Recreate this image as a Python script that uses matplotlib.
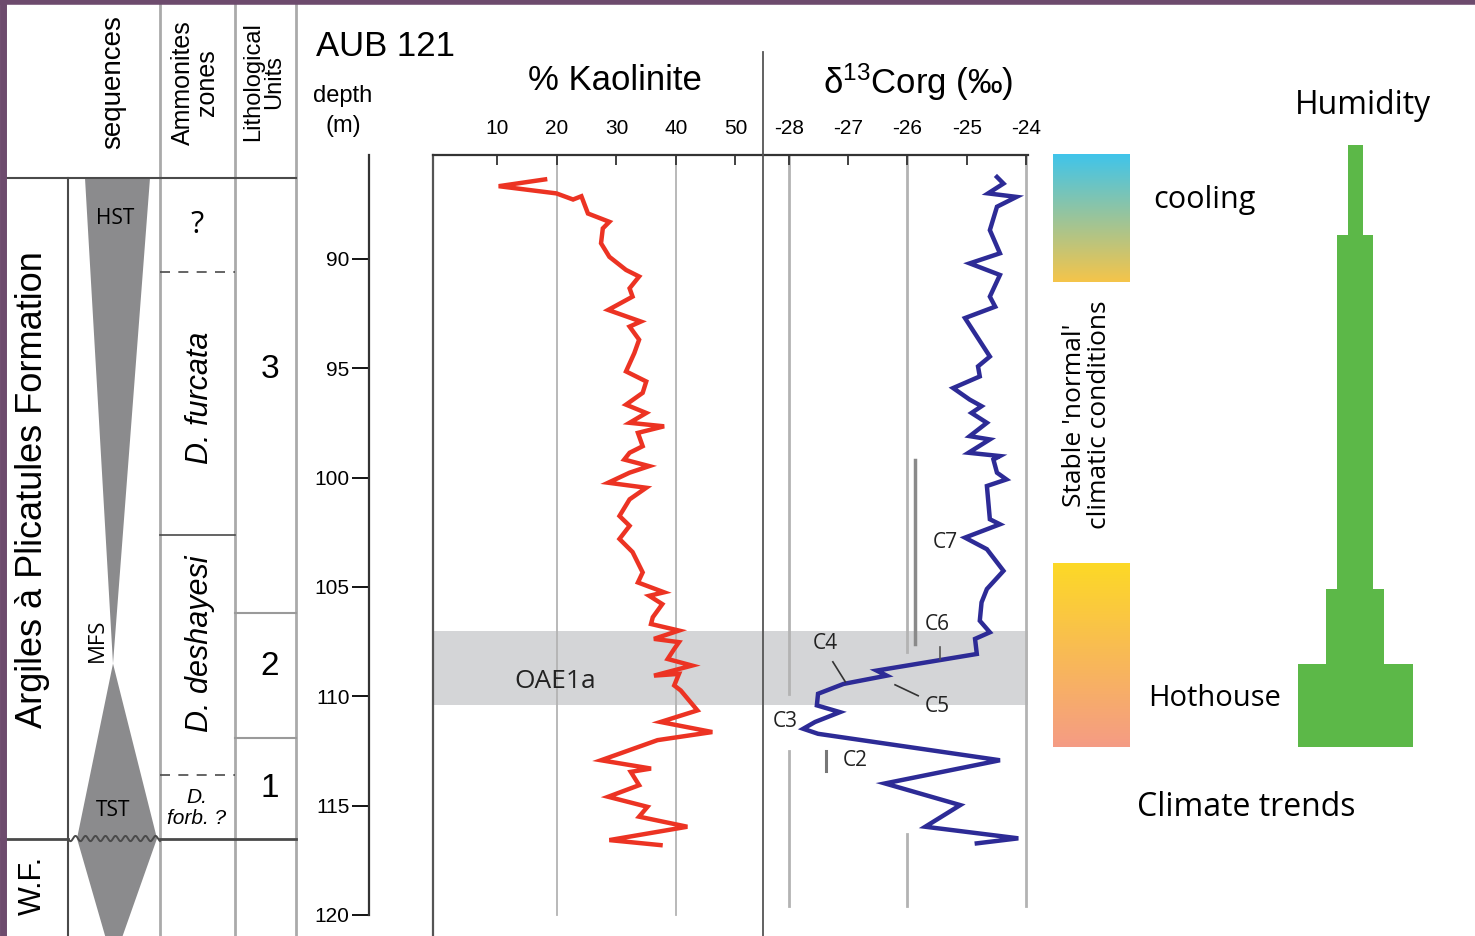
"""AUB 121 section: kaolinite, d13Corg and climate trends across OAE1a."""

import numpy as np
import matplotlib.pyplot as plt

plt.rcParams.update({
    "font.family": "Liberation Sans",
    "mathtext.fontset": "custom",
    "mathtext.rm": "Liberation Sans",
    "mathtext.it": "Liberation Sans:italic",
    "axes.unicode_minus": False,
})

# --- data (depth in m) ---
kao_depth = [86.36, 86.67, 87.0, 87.28, 87.13, 87.92, 88.3, 88.6, 89.28, 89.9,
             90.5, 90.8, 91.34, 91.72, 92.33, 92.86, 93.09, 93.69, 94.3, 95.14,
             95.6, 96.12, 96.66, 97.04, 97.49, 97.65, 97.95, 98.56, 98.86, 99.17,
             99.47, 99.77, 100.23, 100.46, 100.99, 101.75, 102.2, 102.8, 103.4, 104.33,
             104.79, 105.24, 105.4, 105.78, 106.38, 106.69, 106.99, 107.37, 107.52, 107.83,
             108.29, 108.59, 109.05, 108.97, 109.5, 109.73, 110.64, 111.17, 111.63, 112.0,
             112.92, 113.3, 113.45, 114.06, 114.59, 115.05, 115.5, 115.96, 116.57, 116.8]
kao_pct = [18.0, 10.2, 19.9, 22.7, 24.1, 25.2, 28.8, 27.7, 27.4, 28.8,
           31.6, 33.8, 32.2, 32.7, 28.6, 34.1, 32.2, 33.8, 33.0, 31.6,
           35.0, 34.4, 31.6, 35.0, 32.2, 38.0, 33.6, 34.4, 32.2, 31.3,
           35.5, 32.2, 28.6, 35.0, 32.2, 30.5, 32.2, 30.5, 32.7, 34.4,
           33.6, 38.0, 35.5, 37.7, 36.1, 35.8, 40.5, 36.3, 40.5, 39.7,
           38.6, 42.7, 36.3, 40.5, 39.7, 40.8, 43.6, 37.4, 46.1, 36.9,
           27.4, 35.8, 32.4, 33.8, 28.6, 35.2, 33.8, 41.9, 28.8, 37.4]

c13_depth = [86.25, 86.55, 87.0, 87.16, 87.61, 88.68, 89.74, 90.2, 90.73, 91.72,
             92.18, 92.7, 94.46, 94.91, 95.37, 95.9, 96.43, 96.73, 97.04, 97.49,
             98.1, 98.25, 98.86, 99.01, 99.17, 99.77, 100.08, 100.38, 101.9, 102.13,
             102.74, 103.27, 104.26, 105.09, 105.7, 106.54, 107.07, 107.37, 108.06, 108.82,
             109.05, 109.43, 109.88, 110.41, 110.72, 111.17, 111.48, 111.71, 112.92, 113.98,
             114.97, 115.96, 116.49, 116.72]
c13_val = [-24.49, -24.38, -24.64, -24.16, -24.49, -24.61, -24.44, -24.95, -24.44, -24.61,
           -24.52, -25.03, -24.61, -24.81, -24.78, -25.23, -24.95, -24.75, -24.92, -24.66,
           -24.95, -24.61, -24.97, -24.44, -24.55, -24.49, -24.33, -24.66, -24.61, -24.44,
           -25.03, -24.66, -24.38, -24.66, -24.75, -24.78, -24.61, -24.86, -24.83, -26.52,
           -26.35, -27.08, -27.51, -27.53, -27.14, -27.56, -27.76, -27.51, -24.44, -26.38,
           -25.11, -25.70, -24.13, -24.83]

# C-segments (label, d13C, depth)
seg_labels = ["C7", "C6", "C4", "C5", "C3", "C2"]
seg_x = [-25.37, -25.50, -27.39, -25.49, -28.07, -26.89]
seg_depth = [102.95, 106.73, 107.6, 110.47, 111.16, 112.94]

# stratigraphy
header_base = 86.3
zone_bounds = [90.6, 102.6, 113.6]
zone_styles = ["--", "-", "--"]
zone_labels = ["?", "D. furcata", "D. deshayesi", "D.\nforb. ?"]
zone_label_depth = [88.45, 96.35, 107.6, 115.1]
unit_bounds = [106.2, 111.9]
unit_labels = ["3", "2", "1"]
unit_label_depth = [95.06, 108.65, 114.2]
formation_base = 116.5
mfs_depth = 108.5
oae_top, oae_base = 107.0, 110.4

# climate trends
cool_top, cool_base = 85.2, 91.05
hot_top, hot_base = 103.9, 112.3
hum_top = [84.8, 88.9, 105.1, 108.5]
hum_base = [88.9, 105.1, 108.5, 112.3]
hum_width = [15, 36, 58, 115]

W, H = 1475, 936
Y0, Y1 = 78.157, 120.956   # depth at top / bottom pixel row
PXM = 21.87                # pixels per metre
def dep(y):
    return Y0 + y / PXM

GRID = "#b3b3b3"
DARK = "#4a4a4a"
RED = "#ec3323"
BLUE = "#2d2b96"
GREEN = "#5cb848"
MYR = "Open Sans"

fig = plt.figure(figsize=(W / 100, H / 100), dpi=100)

# overlay for text (pixel coordinates)
ax_t = fig.add_axes([0, 0, 1, 1], zorder=5)
ax_t.set_xlim(0, W); ax_t.set_ylim(H, 0); ax_t.axis("off")
ax_t.patch.set_alpha(0)

# stratigraphy + climate (x in pixels, y in depth)
ax_s = fig.add_axes([0, 0, 1, 1], zorder=1)
ax_s.axis("off")

# column frame
ax_s.plot([68, 68], [header_base, Y1], color=DARK, lw=1.5)
for xc in [160, 235, 296]:
    ax_s.plot([xc, xc], [Y0, Y1], color="#aaaaaa", lw=2)
ax_s.plot([5, 296], [header_base, header_base], color=DARK, lw=1.5)
ax_s.plot([0, 68], [formation_base, formation_base], color=DARK, lw=2)
ax_s.plot([160, 296], [formation_base, formation_base], color=DARK, lw=2)
for d, ls in zip(zone_bounds, zone_styles):
    ax_s.plot([160, 235], [d, d], color=DARK, lw=1.2, ls=ls, dashes=(6, 5) if ls == "--" else (None, None))
for d in unit_bounds:
    ax_s.plot([235, 296], [d, d], color="#9a9a9a", lw=1.5)

# sequences
ax_s.fill([85, 150, 113], [header_base, header_base, mfs_depth], color="#8b8b8d", lw=0)
ax_s.fill([113, 157, 113, 77], [mfs_depth, formation_base, 122.2, formation_base],
          color="#8b8b8d", lw=0)
xw = np.linspace(68, 160, 400)
ax_s.plot(xw, formation_base + 0.12 * np.sin((xw - 68) / 10 * 2 * np.pi),
          color=DARK, lw=1.4)

# climate gradient boxes
cool = np.array([[0.25, 0.77, 0.92], [0.96, 0.77, 0.29]])
hot = np.array([[0.99, 0.85, 0.15], [0.96, 0.61, 0.52]])
for top, base, cols in [(cool_top, cool_base, cool), (hot_top, hot_base, hot)]:
    t = np.linspace(0, 1, 200)[:, None]
    grad = (1 - t) * cols[0] + t * cols[1]
    ax_s.imshow(grad[:, None, :].repeat(2, axis=1), extent=(1053, 1130, base, top),
                aspect="auto", origin="upper")

# humidity steps
hum_top = np.array(hum_top); hum_base = np.array(hum_base); hum_width = np.array(hum_width)
ax_s.barh((hum_top + hum_base) / 2, hum_width, height=hum_base - hum_top,
          left=1355 - hum_width / 2, color=GREEN, lw=0)

ax_s.set_xlim(0, W); ax_s.set_ylim(Y1, Y0)

# --- curve panels ---
ybot_px = 936
kx0, kx1 = 20 - 124 / 5.95, 20 + 206 / 5.95
cx0, cx1 = -28 - 26 / 59.25, -28 + 239 / 59.25

ax_k = fig.add_axes([433 / W, 0, 330 / W, (ybot_px - 155) / H], zorder=2)
ax_c = fig.add_axes([763 / W, 0, 265 / W, (ybot_px - 155) / H], zorder=2)
for ax, xl in [(ax_k, (kx0, kx1)), (ax_c, (cx0, cx1))]:
    ax.set_xlim(*xl); ax.set_ylim(Y1, dep(155))
    ax.patch.set_alpha(0)
    for s in ["bottom", "right", "left"]:
        ax.spines[s].set_visible(False)
    ax.spines["top"].set_color("#333333"); ax.spines["top"].set_linewidth(1.6)
    ax.xaxis.tick_top()
    ax.tick_params(axis="x", direction="in", length=7, width=1.3, color="#333333",
                   labelsize=15, pad=12)
    ax.set_yticks([])
    ax.axhspan(oae_top, oae_base, color="#d4d5d7", lw=0, zorder=0)
ax_k.spines["left"].set_visible(True)
ax_k.spines["left"].set_color("#555555"); ax_k.spines["left"].set_linewidth(1.6)
ax_k.set_xticks([10, 20, 30, 40, 50])
ax_c.set_xticks([-28, -27, -26, -25, -24])

for v in [20, 40]:
    ax_k.plot([v, v], [dep(155), 120.0], color=GRID, lw=1.3, zorder=1)
for v, segs in [(-28, [(dep(155), 109.9), (112.5, 119.6)]),
                (-26, [(dep(155), 107.97), (116.3, 119.6)]),
                (-24, [(dep(155), 119.6)])]:
    for a, b in segs:
        ax_c.plot([v, v], [a, b], color=GRID, lw=2, zorder=1)

ax_k.plot(kao_pct, kao_depth, color=RED, lw=3.2, zorder=3, solid_joinstyle="miter")
ax_c.plot(c13_val, c13_depth, color=BLUE, lw=3.2, zorder=3, solid_joinstyle="miter")
ax_k.text(19.7, 109.3, "OAE1a", family=MYR, fontsize=19, color="#222222",
          ha="center", va="center")

# segment markers
ax_c.plot([-25.87, -25.87], [99.17, 107.6], color="#8a8a8a", lw=2.5, zorder=2)
ax_c.plot([-25.45, -25.45], [107.74, 108.3], color="#555555", lw=1.2, zorder=4)
ax_c.plot([-27.38, -27.38], [112.48, 113.4], color="#777777", lw=2.2, zorder=2)
ax_c.plot([-27.26, -27.05], [108.42, 109.33], color="#333333", lw=1.2, zorder=4)
ax_c.plot([-26.21, -25.82], [109.47, 109.97], color="#333333", lw=1.2, zorder=4)
for lab, x, d in zip(seg_labels, seg_x, seg_depth):
    ax_c.text(x, d, lab, family=MYR, fontsize=15, color="#222222",
              ha="center", va="center", zorder=5)

# depth axis
ax_d = fig.add_axes([369 / W, (H - 915) / H, 0.0001, (915 - 155) / H], zorder=2)
ax_d.set_ylim(120, dep(155))
for s in ["bottom", "right", "top"]:
    ax_d.spines[s].set_visible(False)
ax_d.spines["left"].set_color("#333333"); ax_d.spines["left"].set_linewidth(1.6)
ax_d.set_xticks([])
ax_d.set_yticks([90, 95, 100, 105, 110, 115, 120])
ax_d.tick_params(axis="y", direction="out", length=12, width=1.3, labelsize=15, pad=2)

# panel separator
ax_t.plot([763, 763], [52, H], color="#555555", lw=1.3)

# strat column texts
for lab, d in zip(zone_labels, zone_label_depth):
    if lab == "?":
        ax_s.text(197, d, lab, family=MYR, fontsize=22, ha="center", va="center")
    elif "\n" in lab:
        ax_s.text(197, d, lab, style="italic", fontsize=15, ha="center", va="center",
                  linespacing=1.1)
    else:
        ax_s.text(200, d, lab, style="italic", fontsize=22, rotation=90,
                  ha="center", va="center")
for lab, d in zip(unit_labels, unit_label_depth):
    ax_s.text(270, d, lab, fontsize=24, ha="center", va="center")

# header/labels in pixel coords
ax_t.text(113, 82, "sequences", rotation=90, fontsize=20, ha="center", va="center")
ax_t.text(195, 83, "Ammonites\nzones", rotation=90, fontsize=18, ha="center",
          va="center", linespacing=1.0)
ax_t.text(264, 82, "Lithological\nUnits", rotation=90, fontsize=17, ha="center",
          va="center", linespacing=0.95)
ax_t.text(33, 490, "Argiles à Plicatules Formation", rotation=90, fontsize=26,
          ha="center", va="center")
ax_t.text(33, 885, "W.F.", rotation=90, fontsize=22, ha="center", va="center")
ax_t.text(115, 218, "HST", family=MYR, fontsize=15, ha="center", va="center")
ax_t.text(113, 810, "TST", family=MYR, fontsize=15, ha="center", va="center")
ax_t.text(97, 640, "MFS", family=MYR, fontsize=16, rotation=90, ha="center", va="center")

ax_t.text(316, 46, "AUB 121", fontsize=25, ha="left", va="center")
ax_t.text(343, 111, "depth\n(m)", fontsize=17, ha="center", va="center", linespacing=1.5)
ax_t.text(615, 80, "% Kaolinite", fontsize=25, ha="center", va="center")
ax_t.text(918, 82, r"δ$^{13}$Corg (‰)", fontsize=25, ha="center", va="center")

ax_t.text(1153, 200, "cooling", family=MYR, fontsize=22, ha="left", va="center")
ax_t.text(1148, 698, "Hothouse", family=MYR, fontsize=21, ha="left", va="center")
ax_t.text(1363, 105, "Humidity", family=MYR, fontsize=23, ha="center", va="center")
ax_t.text(1246, 808, "Climate trends", family=MYR, fontsize=23, ha="center", va="center")
ax_t.text(1087, 415, "Stable 'normal'\nclimatic conditions", family=MYR, fontsize=19,
          rotation=90, ha="center", va="center", linespacing=1.05)

# purple frame
ax_t.plot([2.5, 2.5], [0, H], color="#6d4b6d", lw=5)
ax_t.plot([0, W], [1.5, 1.5], color="#6d4b6d", lw=4)

fig.savefig("out.png", dpi=100)
